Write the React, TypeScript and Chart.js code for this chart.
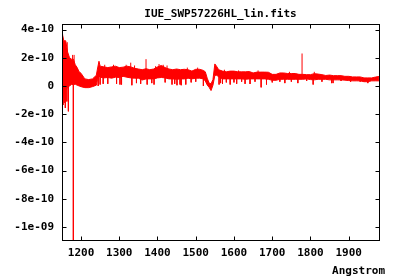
import React, { useEffect, useRef } from 'react';
import { Chart, registerables } from 'chart.js';

Chart.register(...registerables);

const TITLE = 'IUE_SWP57226HL_lin.fits';
const X_LABEL = 'Angstrom';
const X_MIN = 1150.3;
const X_MAX = 1979.2;
const Y_MIN = -1.092e-9;
const Y_MAX = 4.39e-10;
const UNIT = 1e-10;

const xTicks = [1200, 1300, 1400, 1500, 1600, 1700, 1800, 1900];
const yTicks = [4e-10, 2e-10, 0, -2e-10, -4e-10, -6e-10, -8e-10, -1e-9];
const yTickLabels = ['4e-10', '2e-10', '0', '-2e-10', '-4e-10', '-6e-10', '-8e-10', '-1e-09'];

// wavelength grid (Angstrom)
const wave = [
  1150, 1152, 1155, 1160, 1165, 1170, 1175, 1180, 1185, 1190, 1195, 1200, 1210, 1220, 1230, 1240,
  1243, 1247, 1250, 1260, 1270, 1280, 1290, 1300, 1310, 1320, 1330, 1340, 1350, 1360, 1370, 1380,
  1390, 1400, 1410, 1420, 1430, 1440, 1450, 1460, 1470, 1480, 1490, 1500, 1510, 1520, 1525, 1530,
  1535, 1540, 1545, 1550, 1555, 1560, 1570, 1580, 1590, 1600, 1610, 1620, 1630, 1640, 1650, 1660,
  1670, 1680, 1690, 1700, 1710, 1720, 1730, 1740, 1750, 1760, 1770, 1780, 1790, 1800, 1810, 1820,
  1830, 1840, 1850, 1860, 1870, 1880, 1890, 1900, 1910, 1920, 1930, 1940, 1950, 1960, 1970, 1979,
];
// upper edge of the noisy flux band (1e-10 units)
const upper = [
  4.2, 3.6, 3.2, 3.2, 2.4, 2.0, 1.9, 1.9, 1.5, 1.3, 1.0, 0.9, 0.5, 0.45, 0.5, 0.75,
  1.2, 1.75, 1.4, 1.35, 1.3, 1.35, 1.4, 1.3, 1.33, 1.4, 1.35, 1.25, 1.2, 1.15, 1.22, 1.15,
  1.2, 1.35, 1.45, 1.3, 1.2, 1.15, 1.2, 1.15, 1.18, 1.15, 1.05, 1.18, 1.18, 1.1, 1.0, 0.55,
  0.2, 0.15, 0.45, 1.56, 1.37, 1.15, 1.05, 1.0, 1.05, 1.05, 1.0, 1.0, 1.0, 1.02, 0.92, 0.98,
  0.98, 0.98, 0.97, 0.82, 0.82, 0.92, 0.92, 0.88, 0.88, 0.88, 0.82, 0.82, 0.8, 0.8, 0.87, 0.84,
  0.8, 0.74, 0.77, 0.73, 0.73, 0.73, 0.68, 0.68, 0.64, 0.64, 0.64, 0.57, 0.57, 0.57, 0.63, 0.67,
];
// lower edge of the noisy flux band (1e-10 units)
const lower = [
  -1.2, -0.9, -0.7, -0.3, -0.1, 0.0, 0.1, 0.1, 0.12, 0.05, 0.0, -0.05, -0.12, -0.12, -0.05, 0.05,
  0.45, 0.7, 0.62, 0.57, 0.6, 0.55, 0.62, 0.6, 0.68, 0.62, 0.57, 0.55, 0.55, 0.42, 0.5, 0.5,
  0.5, 0.57, 0.6, 0.57, 0.5, 0.5, 0.47, 0.5, 0.5, 0.55, 0.5, 0.55, 0.55, 0.5, 0.35, 0.07,
  -0.1, -0.33, 0.05, 0.75, 0.75, 0.65, 0.5, 0.5, 0.5, 0.5, 0.5, 0.5, 0.47, 0.5, 0.5, 0.5,
  0.5, 0.5, 0.47, 0.4, 0.4, 0.47, 0.47, 0.47, 0.47, 0.47, 0.47, 0.47, 0.5, 0.45, 0.43, 0.47,
  0.47, 0.47, 0.43, 0.43, 0.43, 0.43, 0.41, 0.38, 0.36, 0.36, 0.36, 0.3, 0.3, 0.36, 0.36, 0.36,
];
// isolated spikes (wavelength, flux in 1e-10 units)
const spikeWave = [
  1151, 1153, 1156, 1159, 1163, 1164, 1167, 1178, 1180, 1182, 1245, 1250, 1258, 1262, 1270, 1285,
  1293, 1302, 1306, 1318, 1330, 1333, 1340, 1345, 1356, 1370, 1373, 1385, 1391, 1395, 1404, 1415,
  1420, 1425, 1438, 1445, 1451, 1459, 1462, 1474, 1478, 1488, 1500, 1505, 1520, 1561, 1565, 1570,
  1575, 1580, 1590, 1600, 1607, 1612, 1620, 1629, 1642, 1655, 1663, 1671, 1685, 1700, 1720, 1733,
  1745, 1750, 1767, 1778, 1790, 1807, 1810, 1830, 1855, 1859, 1880, 1905, 1930, 1950,
];
const spikeFlux = [
  -1.5, -1.35, -1.2, -1.56, -1.1, 3.1, -1.8, 2.2, -11.5, 2.2, 0.0, 0.1, 0.15, 1.5, 0.15, 1.5,
  0.15, 0.1, 0.1, 1.5, 1.65, 0.05, 1.45, 0.2, 0.15, 1.9, 0.1, 0.2, 0.1, 1.4, 1.55, 1.5,
  0.25, 1.45, 0.1, 0.15, 0.05, 0.1, 0.05, 0.1, 1.3, 0.25, 0.3, 1.3, 0.0, 0.1, 0.2, 0.15,
  1.15, 0.25, 0.1, 0.25, 0.15, 1.1, 0.3, 0.15, 0.14, 0.3, 1.1, -0.1, 0.1, 0.25, 0.3, 0.2,
  1.0, 0.3, 0.2, 2.3, 0.35, 0.1, 1.0, 0.3, 0.2, 0.2, 0.35, 0.3, 0.3, 0.2,
];

const RED = '#ff0000';
const FONT = '"DejaVu Sans Mono", "Liberation Mono", monospace';

function nearestIndex(w: number): number {
  let best = 0;
  for (let i = 1; i < wave.length; i++) {
    if (Math.abs(wave[i] - w) < Math.abs(wave[best] - w)) best = i;
  }
  return best;
}

const framePlugin = {
  id: 'gnuFrame',
  afterDraw(chart: any) {
    const { ctx, chartArea: a, scales } = chart;
    ctx.save();
    ctx.strokeStyle = '#000';
    ctx.lineWidth = 1;
    const L = Math.round(a.left) + 0.5;
    const R = Math.round(a.right) + 0.5;
    const T = Math.round(a.top) + 0.5;
    const B = Math.round(a.bottom) + 0.5;
    ctx.strokeRect(L, T, R - L, B - T);
    ctx.beginPath();
    xTicks.forEach((v) => {
      const px = Math.round(scales.x.getPixelForValue(v)) + 0.5;
      ctx.moveTo(px, B);
      ctx.lineTo(px, B - 4);
      ctx.moveTo(px, T);
      ctx.lineTo(px, T + 4);
    });
    yTicks.forEach((v) => {
      const py = Math.round(scales.y.getPixelForValue(v)) + 0.5;
      ctx.moveTo(L, py);
      ctx.lineTo(L + 4, py);
      ctx.moveTo(R, py);
      ctx.lineTo(R - 4, py);
    });
    ctx.stroke();
    ctx.fillStyle = '#000';
    ctx.font = `bold 11px ${FONT}`;
    ctx.textBaseline = 'middle';
    ctx.textAlign = 'center';
    ctx.fillText(TITLE, (a.left + a.right) / 2, 14.5);
    ctx.textAlign = 'right';
    ctx.fillText(X_LABEL, 385, 271);
    ctx.restore();
  },
};

export default function App() {
  const ref = useRef<HTMLCanvasElement | null>(null);

  useEffect(() => {
    if (!ref.current) return;
    const upperPts = wave.map((w, i) => ({ x: w, y: upper[i] * UNIT }));
    const lowerPts = wave.map((w, i) => ({ x: w, y: lower[i] * UNIT }));
    const spikePts: { x: number; y: number | null }[] = [];
    spikeWave.forEach((w, i) => {
      const k = nearestIndex(w);
      const base = ((upper[k] + lower[k]) / 2) * UNIT;
      spikePts.push({ x: w, y: base });
      spikePts.push({ x: w, y: spikeFlux[i] * UNIT });
      spikePts.push({ x: w, y: null });
    });

    const chart = new Chart(ref.current, {
      type: 'line',
      data: {
        datasets: [
          {
            data: upperPts,
            borderColor: RED,
            borderWidth: 1,
            pointRadius: 0,
            tension: 0,
            fill: false,
          },
          {
            data: lowerPts,
            borderColor: RED,
            backgroundColor: RED,
            borderWidth: 1,
            pointRadius: 0,
            tension: 0,
            fill: '-1',
          },
          {
            data: spikePts as any,
            borderColor: RED,
            borderWidth: 1,
            pointRadius: 0,
            tension: 0,
            spanGaps: false,
            fill: false,
          },
        ],
      },
      options: {
        responsive: false,
        animation: false,
        devicePixelRatio: 1,
        layout: { padding: { left: 0, right: 21, top: 24, bottom: 0 } },
        plugins: {
          legend: { display: false },
          tooltip: { enabled: false },
          title: { display: false },
        },
        scales: {
          x: {
            type: 'linear',
            min: X_MIN,
            max: X_MAX,
            afterBuildTicks: (s: any) => {
              s.ticks = xTicks.map((v) => ({ value: v }));
            },
            afterFit: (s: any) => {
              s.height = 40;
            },
            grid: { display: false, drawTicks: false },
            border: { display: false },
            ticks: {
              padding: 7,
              autoSkip: false,
              maxRotation: 0,
              color: '#000',
              font: { family: FONT, size: 11, weight: 'bold' },
              callback: (v: any) => String(v),
            },
          },
          y: {
            type: 'linear',
            min: Y_MIN,
            max: Y_MAX,
            afterBuildTicks: (s: any) => {
              s.ticks = yTicks.map((v) => ({ value: v }));
            },
            afterFit: (s: any) => {
              s.width = 62;
            },
            grid: { display: false, drawTicks: false },
            border: { display: false },
            ticks: {
              padding: 8,
              autoSkip: false,
              color: '#000',
              font: { family: FONT, size: 11, weight: 'bold' },
              callback: (v: any) => {
                const i = yTicks.findIndex((t) => Math.abs(t - Number(v)) < 1e-16);
                return i >= 0 ? yTickLabels[i] : '';
              },
            },
          },
        },
      },
      plugins: [framePlugin],
    });
    return () => chart.destroy();
  }, []);

  return (
    <div style={{ position: 'absolute', left: 0, top: 0, width: 400, height: 280, background: '#fff' }}>
      <canvas ref={ref} width={400} height={280} />
    </div>
  );
}
